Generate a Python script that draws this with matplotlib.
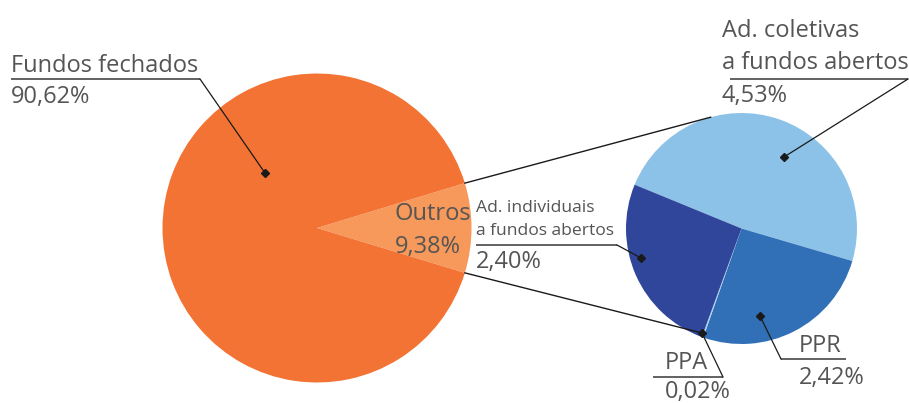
import numpy as np
import matplotlib.pyplot as plt

# main pie
main_labels = ["Fundos fechados", "Outros"]
main_values = [90.62, 9.38]

# breakdown of "Outros" (clockwise from top-left)
sub_labels = ["Ad. coletivas\na fundos abertos", "PPR", "PPA", "Ad. individuais\na fundos abertos"]
sub_values = [4.53, 2.42, 0.02, 2.40]

W, H = 909, 403
def Y(y):
    return H - y

plt.rcParams['font.family'] = ['Open Sans', 'DejaVu Sans']
txt = "#555555"

fig = plt.figure(figsize=(W / 100, H / 100), dpi=100)
ax = fig.add_axes([0, 0, 1, 1])

# main pie, "Outros" centred on 0 degrees
c1, r1 = (317, Y(228)), 154.5
half = main_values[1] / sum(main_values) * 360 / 2
w1, _ = ax.pie(main_values[::-1], colors=["#F6995A", "#F37335"], startangle=-half,
               center=c1, radius=r1, counterclock=True,
               wedgeprops=dict(linewidth=0))

# sub pie
c2, r2 = (741.5, Y(228.5)), 115.5
w2, _ = ax.pie(sub_values, colors=["#8CC2E8", "#3170B7", "#A9D0EF", "#2F469B"],
               startangle=157.7, counterclock=False, center=c2, radius=r2,
               wedgeprops=dict(linewidth=0))

ax.set_xlim(0, W)
ax.set_ylim(0, H)
ax.set_aspect('auto')
ax.axis('off')

# connector lines from "Outros" wedge to sub pie
a_top = np.deg2rad(half)
p_top = (c1[0] + r1 * np.cos(a_top), c1[1] + r1 * np.sin(a_top))
a2 = np.deg2rad(105.5)
q_top = (c2[0] + r2 * np.cos(a2), c2[1] + r2 * np.sin(a2))
ax.plot([p_top[0], q_top[0]], [p_top[1], q_top[1]], color="#1a1a1a", lw=1)

ppa_dot = (702, Y(333))
p_bot = (c1[0] + r1 * np.cos(-a_top), c1[1] + r1 * np.sin(-a_top))
ax.plot([p_bot[0], ppa_dot[0]], [p_bot[1], ppa_dot[1]], color="#1a1a1a", lw=1)

big = 17
small = 12.6

def callout(lines, x, y_base, line_gap, pct, pct_base, ul_y, ul_x0, ul_x1, end, dot, size=big):
    for i, s in enumerate(lines):
        ax.text(x, Y(y_base + i * line_gap), s, fontsize=size, color=txt, va='baseline', ha='left')
    ax.text(x, Y(pct_base), pct, fontsize=big, color=txt, va='baseline', ha='left')
    ax.plot([ul_x0, ul_x1], [Y(ul_y), Y(ul_y)], color="#555555", lw=1.3, solid_capstyle='butt')
    ax.plot([end[0], dot[0]], [Y(end[1]), Y(dot[1])], color="#1a1a1a", lw=0.9)
    ax.plot(dot[0], Y(dot[1]), marker='D', ms=4.5, color="#1a1a1a")

callout(["Fundos fechados"], 11, 72, 0, "90,62%", 103, 79, 11, 200, (200, 79), (265, 173))
callout(["Ad. coletivas", "a fundos abertos"], 722, 37, 32, "4,53%", 102, 79, 730, 908, (908, 79), (784, 157))
callout(["Ad. individuais", "a fundos abertos"], 476, 212, 23, "2,40%", 268, 245, 476, 617, (617, 245), (641, 258), size=small)
callout(["PPR"], 799, 352, 0, "2,42%", 384, 359, 781, 846, (781, 359), (760, 316))
callout(["PPA"], 665, 369, 0, "0,02%", 398, 377, 653, 723, (723, 377), (702, 333))

ax.text(395, Y(220), "Outros", fontsize=big, color=txt, va='baseline', ha='left')
ax.text(395, Y(253), "9,38%", fontsize=big, color=txt, va='baseline', ha='left')

fig.savefig("out.png", dpi=100)
